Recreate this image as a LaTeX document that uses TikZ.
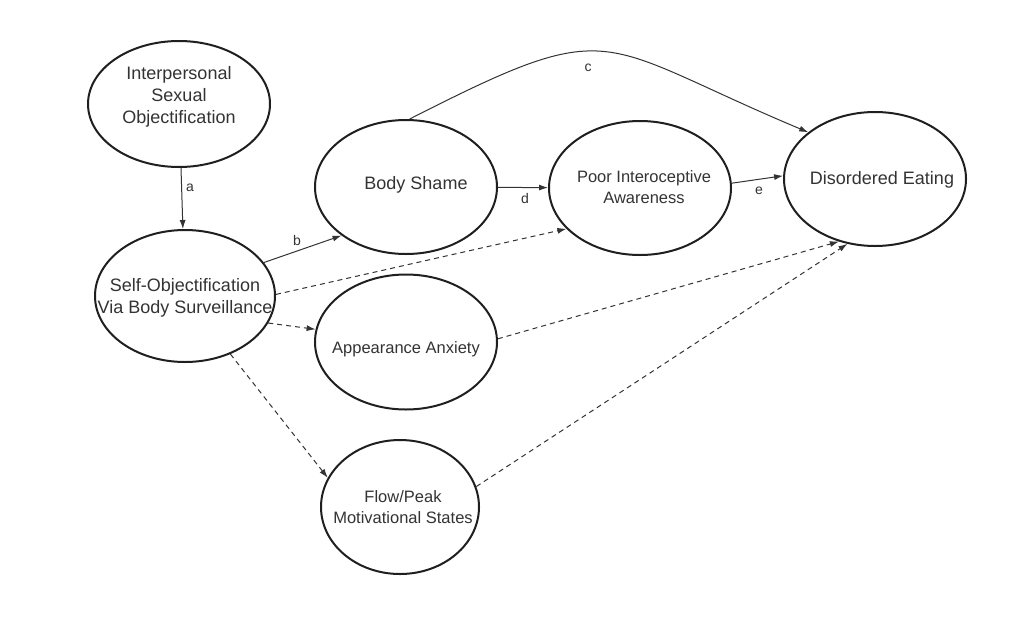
\documentclass[tikz,border=0pt]{standalone}
\usepackage{fontspec}
\setmainfont{Liberation Sans}
\usetikzlibrary{shapes.geometric,arrows.meta}

% text that does not widen the ellipse round it (#1 = x offset, #2 = raise)
\newcommand\vartext[3]{\makebox[0pt]{\kern#1\kern#1\smash{\raisebox{#2}{\begin{tabular}{@{}c@{}}#3\end{tabular}}}}}

\begin{document}
\begin{tikzpicture}[x=1pt,y=-1pt,
  var/.style={ellipse,draw=black!88,line width=2pt,text=black!80,inner sep=0pt,
    font=\fontsize{18}{22}\selectfont},
  smalltext/.style={font=\fontsize{16.5}{21}\selectfont},
  direct/.style={draw=black!80,line width=1pt,-{Latex[length=9pt,width=6pt]}},
  indirect/.style={direct,dash pattern=on 5pt off 4pt},
  lbl/.style={text=black!80,font=\fontsize{14}{16}\selectfont}]
	\useasboundingbox (0,0) rectangle (1024,616);

	% constructs
	\node[var,minimum width=182pt,minimum height=126pt] (iso) at (179,104) {\vartext{0pt}{3pt}{Interpersonal\\Sexual\\Objectification}};
	\node[var,minimum width=180pt,minimum height=132pt] (so) at (185,296) {\vartext{0pt}{-6pt}{Self-Objectification\\Via Body Surveillance}};
	\node[var,minimum width=182pt,minimum height=134pt] (bs) at (406,187) {\vartext{10pt}{-2pt}{Body Shame}};
	\node[var,smalltext,minimum width=182pt,minimum height=134pt] (pia) at (640,188) {\vartext{4pt}{-5pt}{Poor Interoceptive\\Awareness}};
	\node[var,minimum width=182pt,minimum height=134pt] (de) at (875,179) {\vartext{7pt}{-5pt}{Disordered Eating}};
	\node[var,smalltext,minimum width=182pt,minimum height=135pt] (aa) at (406,342) {\vartext{0pt}{-12pt}{Appearance Anxiety}};
	\node[var,smalltext,minimum width=158pt,minimum height=134pt] (fp) at (400,507) {\vartext{3pt}{-6pt}{Flow/Peak\\Motivational States}};

	% direct paths
	\draw[direct] (iso) -- (so);
	\draw[direct] (so.23) -- (bs.217);
	\draw[direct] (bs.87) .. controls (618,13) and (593,42) .. (de.145);
	\draw[direct] (bs) -- (pia);
	\draw[direct] (pia.3) -- (de.178);

	% indirect paths
	\draw[indirect] (so.1) -- (pia.209);
	\draw[indirect] (so.342) -- (aa.172);
	\draw[indirect] (so.308) -- (fp.158);
	\draw[indirect] (aa.2) -- (de.240);
	\draw[indirect] (fp.15) -- (de.247);

	\node[lbl] (la) at (190,188) {a};
	\node[lbl] (lb) at (297,240) {b};
	\node[lbl] (lc) at (588,68) {c};
	\node[lbl] (ld) at (525,198) {d};
	\node[lbl] (le) at (759,191) {e};
\end{tikzpicture}
\end{document}
